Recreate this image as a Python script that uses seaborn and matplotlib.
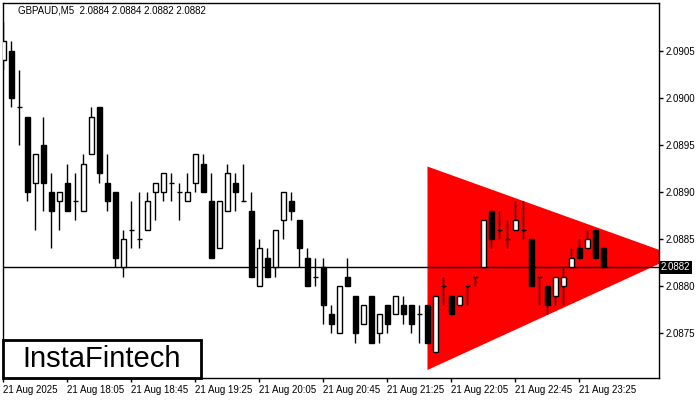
import numpy as np
import pandas as pd
import matplotlib
matplotlib.use("Agg")
import matplotlib.pyplot as plt
import seaborn as sns
from matplotlib.patches import Polygon, Rectangle

# GBPAUD M5 candles, 21 Aug 2025 from 17:25
opens = [2.0904, 2.0905, 2.0899, 2.0898, 2.0891, 2.0895, 2.0890, 2.0889, 2.0891, 2.0889,
         2.0888, 2.0894, 2.0899, 2.0891, 2.0890, 2.0882, 2.0886, 2.0885, 2.0886, 2.0890,
         2.0890, 2.0891, 2.0890, 2.0889, 2.0891, 2.0893, 2.0889, 2.0884, 2.0888, 2.0891,
         2.0889, 2.0888, 2.0880, 2.0883, 2.0882, 2.0887, 2.0889, 2.0887, 2.0883, 2.0881,
         2.0882, 2.0877, 2.0875, 2.0881, 2.0879, 2.0876, 2.0879, 2.0875, 2.0878, 2.0877,
         2.0878, 2.0878, 2.0877, 2.0878, 2.0873, 2.0880, 2.0879, 2.0878, 2.0880, 2.0881,
         2.0882, 2.0888, 2.0886, 2.0885, 2.0886, 2.0886, 2.0885, 2.0881, 2.0880, 2.0879,
         2.0880, 2.0882, 2.0884, 2.0884, 2.0886, 2.0884]
highs = [2.0908, 2.0906, 2.0903, 2.0898, 2.0894, 2.0898, 2.0892, 2.0890, 2.0893, 2.0892,
         2.0894, 2.0899, 2.0899, 2.0894, 2.0890, 2.0886, 2.0889, 2.0890, 2.0890, 2.0891,
         2.0892, 2.0892, 2.0891, 2.0892, 2.0894, 2.0894, 2.0892, 2.0889, 2.0893, 2.0892,
         2.0893, 2.0890, 2.0885, 2.0884, 2.0886, 2.0890, 2.0890, 2.0887, 2.0884, 2.0883,
         2.0883, 2.0878, 2.0880, 2.0883, 2.0879, 2.0878, 2.0879, 2.0877, 2.0878, 2.0879,
         2.0879, 2.0878, 2.0878, 2.0878, 2.0879, 2.0881, 2.0879, 2.0879, 2.0880, 2.0881,
         2.0887, 2.0888, 2.0888, 2.0887, 2.0889, 2.0889, 2.0885, 2.0881, 2.0880, 2.0881,
         2.0882, 2.0884, 2.0885, 2.0886, 2.0886, 2.0884]
lows = [2.0903, 2.0899, 2.0895, 2.0889, 2.0886, 2.0888, 2.0884, 2.0886, 2.0888, 2.0887,
        2.0888, 2.0894, 2.0891, 2.0888, 2.0882, 2.0881, 2.0884, 2.0884, 2.0886, 2.0887,
        2.0889, 2.0889, 2.0887, 2.0889, 2.0890, 2.0890, 2.0883, 2.0884, 2.0888, 2.0888,
        2.0889, 2.0881, 2.0880, 2.0881, 2.0881, 2.0885, 2.0887, 2.0882, 2.0880, 2.0880,
        2.0876, 2.0875, 2.0875, 2.0880, 2.0874, 2.0876, 2.0874, 2.0874, 2.0875, 2.0877,
        2.0876, 2.0875, 2.0874, 2.0874, 2.0873, 2.0878, 2.0877, 2.0878, 2.0878, 2.0880,
        2.0882, 2.0884, 2.0885, 2.0884, 2.0886, 2.0885, 2.0880, 2.0878, 2.0877, 2.0878,
        2.0878, 2.0882, 2.0883, 2.0884, 2.0883, 2.0882]
closes = [2.0906, 2.0900, 2.0899, 2.0890, 2.0894, 2.0891, 2.0888, 2.0890, 2.0888, 2.0889,
          2.0893, 2.0898, 2.0892, 2.0889, 2.0883, 2.0885, 2.0886, 2.0885, 2.0889, 2.0891,
          2.0892, 2.0891, 2.0890, 2.0890, 2.0894, 2.0890, 2.0883, 2.0889, 2.0892, 2.0890,
          2.0889, 2.0881, 2.0884, 2.0881, 2.0886, 2.0890, 2.0888, 2.0884, 2.0880, 2.0881,
          2.0878, 2.0876, 2.0880, 2.0880, 2.0875, 2.0878, 2.0874, 2.0877, 2.0876, 2.0879,
          2.0877, 2.0876, 2.0877, 2.0874, 2.0879, 2.0880, 2.0877, 2.0879, 2.0880, 2.0881,
          2.0887, 2.0885, 2.0886, 2.0885, 2.0887, 2.0886, 2.0880, 2.0881, 2.0878, 2.0881,
          2.0881, 2.0883, 2.0883, 2.0885, 2.0883, 2.0882]

tick_labels = ["21 Aug 2025", "21 Aug 18:05", "21 Aug 18:45", "21 Aug 19:25",
               "21 Aug 20:05", "21 Aug 20:45", "21 Aug 21:25", "21 Aug 22:05",
               "21 Aug 22:45", "21 Aug 23:25"]

# triangle pattern (bar index, price)
tri_x = [53, 53, 84.1]
tri_y = [2.08927, 2.08711, 2.08832]
last_price = 2.0882

df = pd.DataFrame({"open": opens, "high": highs, "low": lows, "close": closes})
df["i"] = np.arange(len(df))

sns.set_style("white")
plt.rcParams["font.family"] = ["Liberation Sans", "DejaVu Sans"]

fig = plt.figure(figsize=(7, 4), dpi=100)
ax = fig.add_axes([3 / 700, 22 / 400, 656 / 700, 375 / 400])

ax.add_patch(Polygon(list(zip(tri_x, tri_y)), closed=True, facecolor="#ff0000",
                     edgecolor="none", zorder=1))
ax.axhline(last_price, color="black", linewidth=1, zorder=2)

ax.vlines(df["i"], df["low"], df["high"], color="black", linewidth=1, zorder=3)
up = df[df["close"] > df["open"]]
down = df[df["close"] < df["open"]]
flat = df[df["close"] == df["open"]]
ax.bar(up["i"], up["close"] - up["open"], bottom=up["open"], width=0.6,
       color="white", edgecolor="black", linewidth=1, zorder=4)
ax.bar(down["i"], down["open"] - down["close"], bottom=down["close"], width=0.6,
       color="black", edgecolor="black", linewidth=1, zorder=4)
ax.hlines(flat["open"], flat["i"] - 0.3, flat["i"] + 0.3, color="black",
          linewidth=1, zorder=4)

ax.set_xlim(-0.06, 81.94)
ax.set_ylim(2.087025, 2.091006)

ax.yaxis.tick_right()
ax.set_yticks(np.arange(2.0875, 2.09051, 0.0005))
ax.yaxis.set_major_formatter(matplotlib.ticker.FormatStrFormatter("%.4f"))
ax.set_xticks(np.arange(0, 80, 8))
ax.set_xticklabels(tick_labels, ha="left")
ax.tick_params(axis="both", direction="out", length=3, width=1, color="black",
               labelsize=7, labelcolor="black", pad=2)
ax.tick_params(axis="y", right=True, left=False)
ax.tick_params(axis="x", bottom=True)
for s in ax.spines.values():
    s.set_color("black")
    s.set_linewidth(1)

ax.text(1.003, last_price, "2.0882", transform=ax.get_yaxis_transform(),
        ha="left", va="center", fontsize=7, color="white",
        bbox=dict(boxstyle="square,pad=0.15", facecolor="black", edgecolor="none"))

fig.text(18 / 700, 1 - 10.5 / 400, "GBPAUD,M5  2.0884 2.0884 2.0882 2.0882",
         ha="left", va="center", fontsize=7, color="black")

fig.patches.append(Rectangle((3 / 700, 22 / 400), 198 / 700, 38 / 400,
                             transform=fig.transFigure, facecolor="white",
                             edgecolor="black", linewidth=2, zorder=5))
fig.text(102 / 700, 1 - 359 / 400, "InstaFintech", ha="center", va="center",
         fontsize=21, color="black", zorder=6)

fig.savefig("out.png", dpi=100)
